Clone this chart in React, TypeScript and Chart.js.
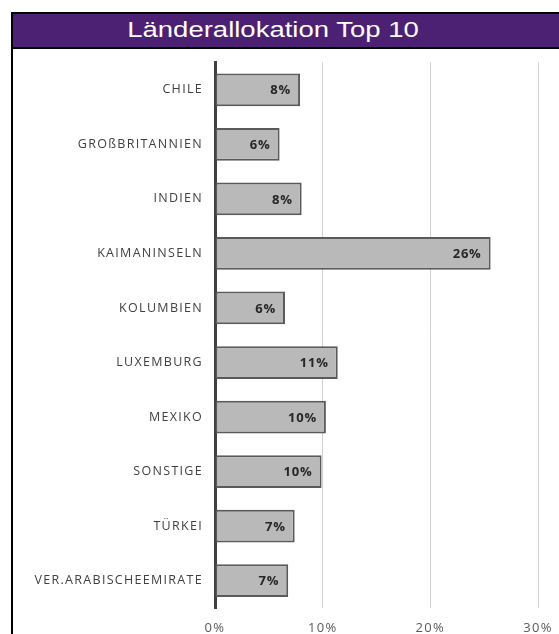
import React, { useEffect, useRef } from "react";
import { Chart, registerables } from "chart.js";

Chart.register(...registerables);

const title = "Länderallokation Top 10";
const categories = [
  "CHILE",
  "GROßBRITANNIEN",
  "INDIEN",
  "KAIMANINSELN",
  "KOLUMBIEN",
  "LUXEMBURG",
  "MEXIKO",
  "SONSTIGE",
  "TÜRKEI",
  "VER.ARABISCHEEMIRATE",
];
const values = [7.9, 6.0, 8.05, 25.6, 6.5, 11.4, 10.3, 9.9, 7.4, 6.8];
const valueLabels = ["8%", "6%", "8%", "26%", "6%", "11%", "10%", "10%", "7%", "7%"];
const xTicks = [0, 10, 20, 30];

const FONT = "'Open Sans', 'Liberation Sans', sans-serif";

const spacingPlugin = {
  id: "spacing",
  beforeDraw(chart: any) {
    (chart.ctx as any).letterSpacing = "1.3px";
  },
};

const barLabelPlugin = {
  id: "barLabels",
  afterDatasetsDraw(chart: any) {
    const ctx = chart.ctx;
    const meta = chart.getDatasetMeta(0);
    ctx.save();
    (ctx as any).letterSpacing = "0.8px";
    ctx.font = `bold 13px ${FONT}`;
    ctx.fillStyle = "#262626";
    ctx.textAlign = "right";
    ctx.textBaseline = "middle";
    meta.data.forEach((bar: any, i: number) => {
      ctx.fillText(valueLabels[i], bar.x - 9, bar.y + 1);
    });
    ctx.restore();
  },
};

export default function App() {
  const ref = useRef<HTMLCanvasElement | null>(null);
  useEffect(() => {
    if (!ref.current) return;
    const chart = new Chart(ref.current, {
      type: "bar",
      data: {
        labels: categories,
        datasets: [
          {
            data: values,
            backgroundColor: "#b9b9b9",
            borderColor: "#5a5a5a",
            borderWidth: 2,
            borderSkipped: false,
            barPercentage: 0.6,
            categoryPercentage: 1,
          },
        ],
      },
      options: {
        indexAxis: "y",
        animation: false,
        responsive: false,
        maintainAspectRatio: false,
        layout: { padding: { top: 5, right: 21, left: 0, bottom: 0 } },
        plugins: {
          legend: { display: false },
          tooltip: { enabled: false },
          title: { display: false },
        },
        scales: {
          x: {
            min: 0,
            max: 30,
            afterBuildTicks: (s: any) => {
              s.ticks = xTicks.map((v) => ({ value: v }));
            },
            afterFit: (s: any) => {
              s.height = 26;
              s.paddingRight = 0;
              s.paddingLeft = 0;
            },
            grid: {
              color: "#d0d0d0",
              lineWidth: 1,
              drawTicks: false,
            },
            border: { display: false },
            ticks: {
              padding: 12,
              color: "#595959",
              font: { family: FONT, size: 13 },
              callback: (v: any) => `${v}%`,
            },
          },
          y: {
            afterFit: (s: any) => {
              s.width = 201;
            },
            grid: { display: false, drawTicks: false },
            border: { display: true, color: "#404040", width: 3 },
            ticks: {
              padding: 12,
              color: "#404040",
              font: { family: FONT, size: 12.5 },
            },
          },
        },
      },
      plugins: [spacingPlugin, barLabelPlugin],
    });
    return () => chart.destroy();
  }, []);

  return (
    <div>
      <div
        style={{
          position: "absolute",
          left: 11,
          top: 12,
          width: 560,
          height: 33,
          background: "#4c2073",
          borderTop: "2px solid #000",
          borderBottom: "2px solid #000",
          borderLeft: "2px solid #000",
        }}
      />
      <div
        style={{
          position: "absolute",
          left: 0,
          top: 15,
          width: 546,
          height: 30,
          lineHeight: "30px",
          textAlign: "center",
          color: "#ffffff",
          fontFamily: "'Liberation Sans', Arial, sans-serif",
          fontSize: 22,
          transform: "scaleX(1.25)",
          transformOrigin: "273px 15px",
        }}
      >
        {title}
      </div>
      <div
        style={{
          position: "absolute",
          left: 11,
          top: 12,
          width: 2,
          height: 622,
          background: "#000",
        }}
      />
      <canvas
        ref={ref}
        width={545}
        height={591}
        style={{ position: "absolute", left: 14, top: 43, width: 545, height: 591 }}
      />
    </div>
  );
}
